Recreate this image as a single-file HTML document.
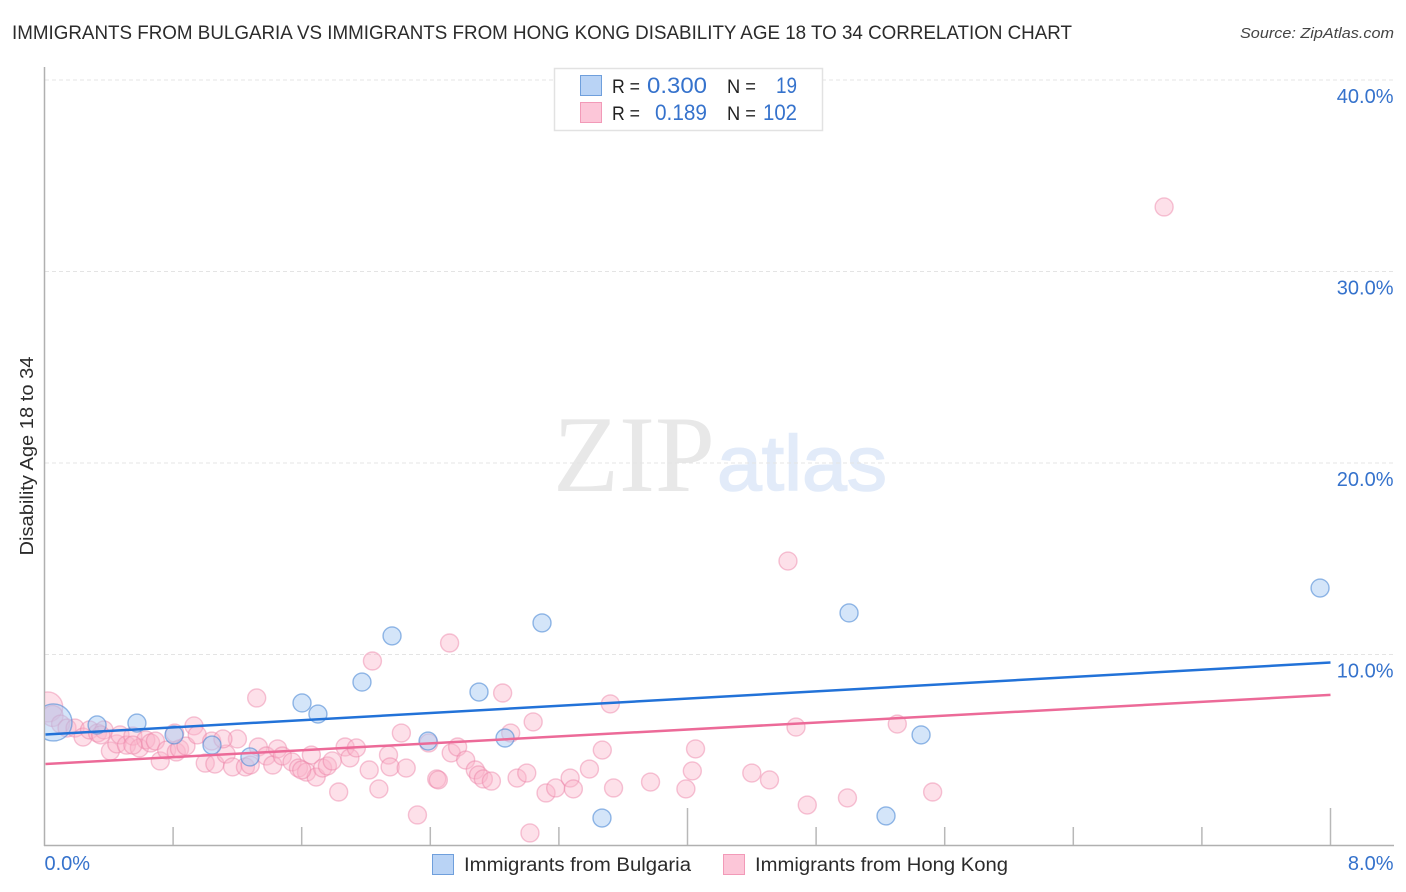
<!DOCTYPE html>
<html lang="en">
<head>
<meta charset="utf-8">
<title>Immigrants from Bulgaria vs Immigrants from Hong Kong Disability Age 18 to 34 Correlation Chart</title>
<style>
html,body{margin:0;padding:0;background:#fff;width:1406px;height:892px;overflow:hidden}
svg{display:block;font-family:"Liberation Sans",sans-serif}
</style>
</head>
<body>
<svg id="chart" width="1406" height="892" viewBox="0 0 1406 892">
  <defs><clipPath id="plot-clip"><rect x="45" y="60" width="1350" height="785"></rect></clipPath></defs>
  <text x="12" y="39" font-size="19" fill="#2b2b2b" textLength="1060" lengthAdjust="spacingAndGlyphs">IMMIGRANTS FROM BULGARIA VS IMMIGRANTS FROM HONG KONG DISABILITY AGE 18 TO 34 CORRELATION CHART</text>
  <text x="1394" y="38" font-size="15" font-style="italic" fill="#444" text-anchor="end" textLength="154" lengthAdjust="spacingAndGlyphs">Source: ZipAtlas.com</text>
  <g>
    <text x="553" y="491" font-family="'Liberation Serif',serif" font-size="109" fill="#e8e8e8" textLength="162" lengthAdjust="spacingAndGlyphs">ZIP</text>
    <text x="717" y="490" font-size="78" fill="#e2ebf9" stroke="#e2ebf9" stroke-width="1.5" textLength="170" lengthAdjust="spacingAndGlyphs">atlas</text>
  </g>
  <g id="grid"></g>
  <g id="axes"></g>
  <g id="points" clip-path="url(#plot-clip)"></g>
  <g id="trends"></g>
  <g id="ylabels"></g>
  <g id="xlabels"></g>
  <text transform="translate(33,456) rotate(-90)" font-size="18.5" fill="#2b2b2b" text-anchor="middle" textLength="199" lengthAdjust="spacingAndGlyphs">Disability Age 18 to 34</text>

  <g>
    <rect x="554.5" y="68.5" width="268" height="62" fill="#fff" stroke="#e2e2e2" stroke-width="1.5"></rect>
    <rect x="580.5" y="75.5" width="21" height="20" fill="#b9d3f5" stroke="#6f9fdc" stroke-width="1"></rect>
    <rect x="580.5" y="102.5" width="21" height="20" fill="#fcc6d8" stroke="#f29ab8" stroke-width="1"></rect>
    <text x="612" y="93" font-size="19" fill="#222" textLength="28" lengthAdjust="spacingAndGlyphs">R =</text>
    <text x="647" y="93" font-size="22" fill="#3572cc" textLength="60" lengthAdjust="spacingAndGlyphs">0.300</text>
    <text x="727" y="93" font-size="19" fill="#222" textLength="29" lengthAdjust="spacingAndGlyphs">N =</text>
    <text x="776" y="93" font-size="22" fill="#3572cc" textLength="21" lengthAdjust="spacingAndGlyphs">19</text>
    <text x="612" y="120" font-size="19" fill="#222" textLength="28" lengthAdjust="spacingAndGlyphs">R =</text>
    <text x="655" y="120" font-size="22" fill="#3572cc" textLength="52" lengthAdjust="spacingAndGlyphs">0.189</text>
    <text x="727" y="120" font-size="19" fill="#222" textLength="29" lengthAdjust="spacingAndGlyphs">N =</text>
    <text x="763" y="120" font-size="22" fill="#3572cc" textLength="34" lengthAdjust="spacingAndGlyphs">102</text>
  </g>

  <g>
    <rect x="432.5" y="854.5" width="21" height="20" fill="#b9d3f5" stroke="#6f9fdc" stroke-width="1"></rect>
    <text x="464" y="871" font-size="19" fill="#2b2b2b" textLength="227" lengthAdjust="spacingAndGlyphs">Immigrants from Bulgaria</text>
  </g>
  <g>
    <rect x="723.5" y="854.5" width="21" height="20" fill="#fcc6d8" stroke="#f29ab8" stroke-width="1"></rect>
    <text x="755" y="871" font-size="19" fill="#2b2b2b" textLength="253" lengthAdjust="spacingAndGlyphs">Immigrants from Hong Kong</text>
  </g>
</svg>
<script>
const yTicks = [10, 20, 30, 40];
const yTickLabels = ["10.0%", "20.0%", "30.0%", "40.0%"];
const xTicks = [0.8, 1.6, 2.4, 3.2, 4.0, 4.8, 5.6, 6.4, 7.2, 8.0];
const xEndValues = [0, 8];
const xEndLabels = ["0.0%", "8.0%"];

const bulgariaX = [0.056,0.327,0.575,0.806,1.042,1.278,1.602,1.701,1.975,2.162,2.386,2.703,2.865,3.095,3.468,5.005,5.235,5.453,7.935];
const bulgariaY = [6.45,6.32,6.42,5.80,5.27,4.65,7.47,6.89,8.56,10.97,5.48,8.04,5.64,11.65,1.46,12.17,1.57,5.80,13.47];

const hongKongX = [0.02,0.05,0.10,0.14,0.19,0.24,0.28,0.33,0.37,0.41,0.45,0.47,0.51,0.55,0.59,0.63,0.66,0.69,0.72,0.76,0.81,0.82,0.84,0.88,0.93,0.95,1.00,1.04,1.06,1.13,1.17,1.20,1.25,1.28,1.32,1.33,1.38,1.42,1.45,1.48,1.54,1.58,1.63,1.66,1.69,1.73,1.76,1.79,1.83,1.87,1.90,1.94,2.02,2.04,2.08,2.14,2.15,2.22,2.25,2.32,2.39,2.44,2.45,2.52,2.53,2.57,2.62,2.68,2.70,2.73,2.78,2.85,2.90,2.94,3.00,3.02,3.04,3.12,3.18,3.27,3.29,3.39,3.47,3.52,3.54,3.77,3.99,4.03,4.05,4.40,4.51,4.625,4.675,4.745,4.995,5.305,5.525,6.965,1.11,0.35,1.60,0.55];
const hongKongY = [7.26,6.79,6.37,6.16,6.16,5.69,6.06,5.90,6.06,4.96,5.33,5.80,5.27,5.74,5.12,5.54,5.38,5.48,4.44,5.01,5.90,4.91,5.07,5.22,6.27,5.80,4.33,5.48,4.28,4.80,4.13,5.59,4.13,4.23,7.73,5.17,4.70,4.23,5.07,4.70,4.39,4.07,3.86,4.75,3.60,4.07,4.18,4.44,2.82,5.17,4.60,5.12,3.97,9.66,2.98,4.75,4.13,5.90,4.07,1.62,5.38,3.50,3.45,10.60,4.86,5.17,4.49,3.97,3.71,3.50,3.39,7.99,5.90,3.55,3.81,0.68,6.48,2.77,3.03,3.55,2.98,4.02,5.01,7.42,3.03,3.34,2.98,3.92,5.07,3.81,3.45,14.88,6.21,2.14,2.51,6.37,2.82,33.37,5.59,5.80,3.97,5.27];

const bulgariaTrendX = [0, 8];
const bulgariaTrendY = [5.82, 9.58];
const hongKongTrendX = [0, 8];
const hongKongTrendY = [4.28, 7.89];

const NS = "http://www.w3.org/2000/svg";
function xScale(v) { return 44.5 + v * 160.75; }
function yScale(v) { return 846 - v * 19.15; }
function make(tag, attrs, parent) {
  const el = document.createElementNS(NS, tag);
  for (const k in attrs) el.setAttribute(k, attrs[k]);
  parent.appendChild(el);
  return el;
}

const grid = document.getElementById("grid");
const axes = document.getElementById("axes");
const ylabels = document.getElementById("ylabels");
const xlabels = document.getElementById("xlabels");
const points = document.getElementById("points");
const trends = document.getElementById("trends");

yTicks.forEach(function (t, i) {
  const line = make("line", {x1: 45, x2: 1393, y1: yScale(t), y2: yScale(t), stroke: "#e4e4e4", "stroke-width": 1, "stroke-dasharray": "4 3"}, grid);
  
  
  const label = make("text", {x: 1393.5, y: yScale(t) + 23, "font-size": 20, fill: "#3572cc", "text-anchor": "end"}, ylabels);
  label.textContent = yTickLabels[i];
  
  
});

const yAxis = make("line", {x1: 44.5, x2: 44.5, y1: 67, y2: 846, stroke: "#b0b0b0", "stroke-width": 1.5}, axes);


const xAxis = make("line", {x1: 44, x2: 1394, y1: 845.5, y2: 845.5, stroke: "#b0b0b0", "stroke-width": 1.5}, axes);



xTicks.forEach(function (t, i) {
  const long = (i === 4 || i === 9);
  const tick = make("line", {x1: xScale(t), x2: xScale(t), y1: long ? 808 : 827, y2: 845, stroke: "#b8b8b8", "stroke-width": 1.5}, axes);
  
  
});

xEndValues.forEach(function (v, i) {
  const label = make("text", {x: i === 0 ? xScale(v) : 1393.5, y: 870, "font-size": 20, fill: "#3572cc", "text-anchor": i === 0 ? "start" : "end"}, xlabels);
  label.textContent = xEndLabels[i];
  
  
});

hongKongX.forEach(function (v, i) {
  const r = i === 0 ? 15 : (i === 1 ? 10.5 : 9);
  const c = make("circle", {cx: xScale(v), cy: yScale(hongKongY[i]), r: r, fill: "#fbb4cb", "fill-opacity": 0.42, stroke: "#ec7ea3", "stroke-opacity": 0.45, "stroke-width": 1.4}, points);
  
  
});
bulgariaX.forEach(function (v, i) {
  const r = i === 0 ? 18.5 : 9;
  const c = make("circle", {cx: xScale(v), cy: yScale(bulgariaY[i]), r: r, fill: "#a9cbf3", "fill-opacity": 0.5, stroke: "#4f8bd6", "stroke-opacity": 0.6, "stroke-width": 1.4}, points);
  
  
});

const trendBulgaria = make("line", {x1: xScale(bulgariaTrendX[0]) + 1, y1: yScale(bulgariaTrendY[0]), x2: xScale(bulgariaTrendX[1]), y2: yScale(bulgariaTrendY[1]), stroke: "#2272d8", "stroke-width": 2.5}, trends);


const trendHongKong = make("line", {x1: xScale(hongKongTrendX[0]) + 1, y1: yScale(hongKongTrendY[0]), x2: xScale(hongKongTrendX[1]), y2: yScale(hongKongTrendY[1]), stroke: "#ec6a98", "stroke-width": 2.5}, trends);


</script>
</body>
</html>
